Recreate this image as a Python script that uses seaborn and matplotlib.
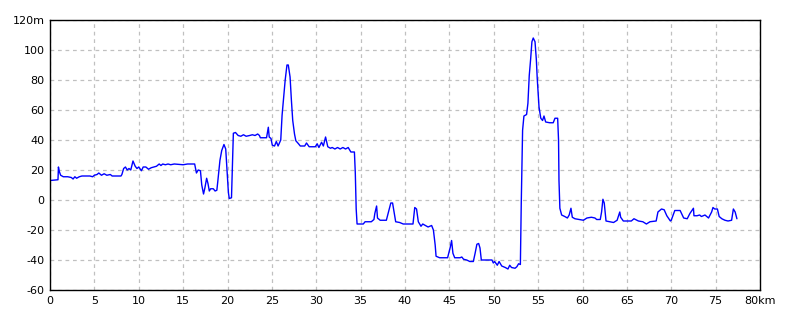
import matplotlib
matplotlib.use("Agg")
import matplotlib.pyplot as plt
import seaborn as sns
import pandas as pd

distance_km = [
    0.0, 0.9, 0.95, 1.05, 1.2, 1.5, 2.0, 2.4, 2.6, 2.8, 3.0, 3.3, 3.6, 4.0, 4.5, 4.8,
    5.0, 5.3, 5.5, 5.8, 6.1, 6.4, 6.8, 7.0, 7.5, 8.0, 8.1, 8.3, 8.5, 8.7, 8.9, 9.1,
    9.35, 9.6, 9.8, 10.0, 10.3, 10.5, 10.8, 11.1, 11.4, 11.7, 12.0, 12.3, 12.5, 12.7,
    13.0, 13.3, 13.6, 14.0, 15.0, 15.5, 16.3, 16.5, 16.7, 16.95, 17.1, 17.3, 17.45,
    17.65, 17.8, 17.95, 18.1, 18.4, 18.6, 18.8, 18.9, 19.15, 19.35, 19.6, 19.8, 19.95,
    20.1, 20.2, 20.45, 20.55, 20.66, 20.9, 21.2, 21.5, 21.8, 22.1, 22.5, 22.8, 23.1,
    23.4, 23.6, 23.7, 24.4, 24.6, 24.7, 24.9, 25.05, 25.3, 25.5, 25.7, 26.0, 26.15,
    26.3, 26.5, 26.7, 26.85, 27.05, 27.2, 27.35, 27.55, 27.7, 28.0, 28.2, 28.7, 28.9,
    29.2, 29.9, 30.1, 30.3, 30.6, 30.8, 31.05, 31.3, 31.6, 31.8, 32.1, 32.4, 32.7,
    33.0, 33.3, 33.6, 33.9, 34.3, 34.4, 34.5, 34.6, 35.3, 35.5, 36.2, 36.5, 36.6,
    36.8, 36.9, 37.2, 37.9, 38.1, 38.4, 38.6, 38.8, 38.95, 39.4, 39.8, 40.9, 41.1,
    41.3, 41.5, 41.8, 42.0, 42.3, 42.6, 43.0, 43.2, 43.4, 43.5, 43.9, 44.8, 45.1,
    45.25, 45.4, 45.6, 46.2, 46.4, 46.6, 46.95, 47.3, 47.7, 47.9, 48.1, 48.3, 48.45,
    48.6, 49.8, 49.95, 50.1, 50.4, 50.6, 50.9, 51.3, 51.6, 51.8, 52.0, 52.4, 52.6,
    52.8, 53.0, 53.1, 53.25, 53.4, 53.7, 53.85, 54.0, 54.15, 54.3, 54.45, 54.65,
    54.8, 54.9, 55.1, 55.3, 55.5, 55.66, 55.85, 56.3, 56.7, 56.9, 57.2, 57.3, 57.35,
    57.45, 57.65, 58.0, 58.3, 58.5, 58.7, 58.85, 59.15, 60.1, 60.5, 61.0, 61.4, 61.6,
    62.0, 62.15, 62.3, 62.45, 62.65, 63.5, 63.9, 64.2, 64.3, 64.6, 65.5, 65.8, 66.3,
    66.8, 67.2, 67.6, 68.3, 68.5, 68.9, 69.2, 69.5, 69.9, 70.0, 70.4, 71.0, 71.4,
    71.8, 72.1, 72.5, 72.56, 72.9, 73.2, 73.4, 73.8, 74.2, 74.55, 74.7, 74.9, 75.2,
    75.4, 75.7, 76.05, 76.4, 76.8, 77.0, 77.2, 77.4,
]

elevation_m = [
    13, 13.5, 22, 19, 16.5, 15.5, 15.5, 15, 14, 15.5, 14.5, 15.5, 16, 16, 16, 15.5,
    16.5, 17, 18, 16.5, 17.5, 16.5, 17, 16, 16, 16, 17, 21, 22, 20, 21, 20,
    26, 22.5, 21, 22, 19.5, 22, 22, 20.5, 21.5, 22, 22.5, 24, 23, 24,
    23.5, 24, 23.5, 24, 23.5, 24, 24, 18, 20, 19.5, 10, 4, 8,
    14.5, 11, 6, 7.5, 7.5, 6, 6.5, 12, 26.5, 33, 37, 34, 20,
    5, 1, 1.5, 23, 44.5, 45, 43, 42.5, 43.5, 42.5, 43, 43.5, 43,
    44, 43, 41.5, 41.5, 48.5, 42, 41, 36.5, 36, 39, 36, 40, 56.5,
    66.5, 80, 90, 90, 82, 66.5, 53, 44, 39.5, 37.5, 36, 36, 38,
    35.5, 35.5, 37.5, 35, 38.5, 36, 42, 35.5, 34.5, 35, 34, 35, 34,
    35, 34, 35, 32, 32, 18, -6, -16, -16, -14.5, -14.5, -13, -9,
    -4, -12, -13.5, -13.5, -9, -2, -2, -9, -14.5, -15, -16, -16, -5,
    -6, -14.5, -17.5, -16, -17, -18, -17, -20, -30, -37.5, -38.5, -38.5, -31.5,
    -27, -35.5, -38.5, -38.5, -38, -39.5, -40, -41, -41, -35.5, -29.5, -29, -32,
    -40, -40, -42, -41, -43.5, -41, -44, -45, -46, -43.5, -45, -45.5, -44.5,
    -42.5, -43, -2, 46.5, 56, 57, 64.5, 83, 93.5, 105.5, 108, 105.5,
    93.5, 81, 62, 54.5, 53, 56, 52, 51.5, 51.5, 54.5, 54.5, 40, 13,
    -5.5, -10, -11, -12, -10, -5.5, -11.5, -12.5, -13.5, -12, -11.5, -12, -13,
    -13, -8, 0.5, -2, -14, -15, -13.5, -8, -11.5, -14, -14, -12.5, -14,
    -14.5, -16, -14.5, -14, -8, -6, -6.5, -10.5, -14, -13.5, -7, -7, -12,
    -12.5, -9, -5.5, -10.5, -10.5, -10, -11, -10, -12, -8, -5, -6, -6,
    -11, -12.5, -13.5, -14, -13.5, -6, -8, -12.5,
]

x_ticks = [0, 5, 10, 15, 20, 25, 30, 35, 40, 45, 50, 55, 60, 65, 70, 75, 80]
x_tick_labels = ["0", "5", "10", "15", "20", "25", "30", "35", "40", "45", "50",
                 "55", "60", "65", "70", "75", "80km"]
y_ticks = [-60, -40, -20, 0, 20, 40, 60, 80, 100, 120]
y_tick_labels = ["-60", "-40", "-20", "0", "20", "40", "60", "80", "100", "120m"]

df = pd.DataFrame({"km": distance_km, "m": elevation_m})

sns.set_theme(style="white")
plt.rcParams["font.family"] = ["DejaVu Sans"]

fig = plt.figure(figsize=(8, 3.2), dpi=100)
ax = fig.add_axes([50 / 800, 30 / 320, 710 / 800, 270 / 320])

sns.lineplot(data=df, x="km", y="m", ax=ax, color="#0000ff", linewidth=1.0,
             sort=False, estimator=None)

ax.set_xlim(0, 80)
ax.set_ylim(-60, 120)
ax.set_xticks(x_ticks)
ax.set_xticklabels(x_tick_labels)
ax.set_yticks(y_ticks)
ax.set_yticklabels(y_tick_labels)
ax.set_xlabel("")
ax.set_ylabel("")
ax.grid(True, color="#c0c0c0", linestyle=(0, (3, 3)), linewidth=0.9)
ax.set_axisbelow(True)
ax.tick_params(axis="both", length=0, labelsize=8, colors="black", pad=4)
for s in ax.spines.values():
    s.set_visible(True)
    s.set_color("black")
    s.set_linewidth(1.0)

fig.savefig("out.png", dpi=100, facecolor="white")
